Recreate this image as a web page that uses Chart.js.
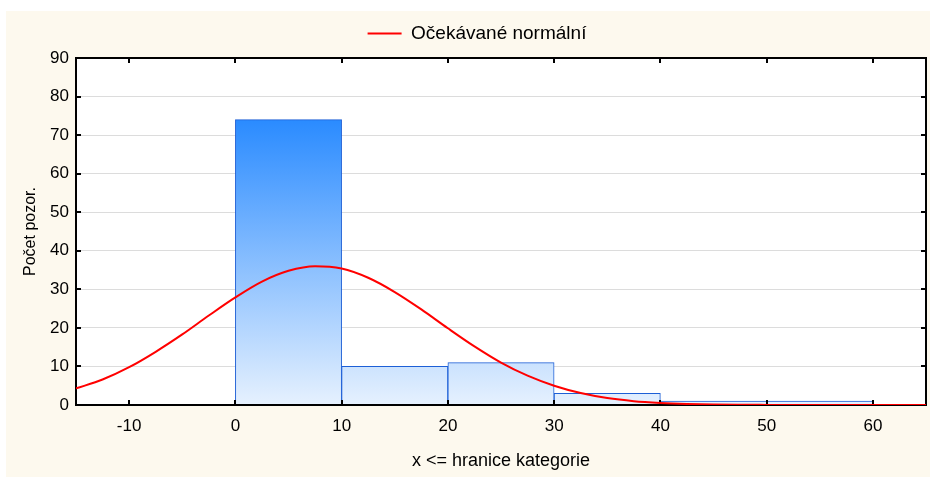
<!DOCTYPE html>
<html>
<head>
<meta charset="utf-8">
<script src="https://cdn.jsdelivr.net/npm/chart.js@4.4.1/dist/chart.umd.min.js"></script>
<style>
  html, body { margin: 0; padding: 0; background: #ffffff; }
  #wrap { width: 933px; height: 477px; }
</style>
</head>
<body>
<div id="wrap"><canvas id="histChart" width="933" height="477"></canvas></div>
<script>
// histogram: bin edges (x <= upper bound) and counts per bin
const binEdges = [0, 10, 20, 30, 40, 50, 60];
const binCounts = [74, 10, 11, 3, 1, 1];

// expected normal curve
const curveX = [-15, -12.5, -10, -7.5, -5, -2.5, 0, 2.5, 5, 7.5, 10, 12.5, 15, 17.5, 20, 22.5, 25, 27.5, 30, 32.5, 35, 37.5, 40, 42.5, 45, 47.5, 50, 55, 60, 65];
const curveY = [4.3, 6.6, 9.8, 13.8, 18.3, 23.2, 27.9, 32.0, 34.8, 36.0, 35.4, 33.0, 29.3, 24.8, 19.9, 15.2, 11.0, 7.6, 5.0, 3.1, 1.8, 1.0, 0.55, 0.28, 0.13, 0.06, 0.03, 0.005, 0, 0];

const xTickValues = [-10, 0, 10, 20, 30, 40, 50, 60];
const xRange = [-15, 65];
const yRange = [0, 90];

const legendLabel = 'Očekávané normální';
const xTitle = 'x <= hranice kategorie';
const yTitle = 'Počet pozor.';

const fontFamily = "'Liberation Sans', Arial, sans-serif";

const barPoints = binCounts.map((c, i) => ({ x: (binEdges[i] + binEdges[i + 1]) / 2, y: c }));
const curvePoints = curveX.map((x, i) => ({ x: x, y: curveY[i] }));

// vertical gradient for the bars, tied to the y scale (not per bar)
function barFill(context) {
  const chart = context.chart;
  const area = chart.chartArea;
  if (!area) return 'rgba(0,0,0,0)';
  const top = chart.scales.y.getPixelForValue(Math.max(...binCounts));
  const g = chart.ctx.createLinearGradient(0, top, 0, area.bottom);
  g.addColorStop(0, '#2a8bff');
  g.addColorStop(1, '#e6f1fe');
  return g;
}

// cream page background
const backdrop = {
  id: 'backdrop',
  beforeDraw(chart) {
    const ctx = chart.ctx;
    ctx.save();
    ctx.fillStyle = '#fdf9ee';
    ctx.fillRect(6, 11, 924, 466);
    ctx.fillStyle = '#ffffff';
    ctx.fillRect(chart.chartArea.left, chart.chartArea.top, chart.chartArea.width, chart.chartArea.height);
    ctx.restore();
  }
};

// black frame + inside tick marks, drawn between bars and curve
const frame = {
  id: 'frame',
  afterDatasetDraw(chart, args) {
    if (args.meta.type !== 'bar') return;
    const { ctx, chartArea: a, scales: { x, y } } = chart;
    ctx.save();
    ctx.strokeStyle = '#000000';
    ctx.lineWidth = 2;
    ctx.strokeRect(a.left, a.top, a.width, a.height);
    ctx.beginPath();
    xTickValues.forEach(v => {
      const px = Math.round(x.getPixelForValue(v));
      ctx.moveTo(px, a.bottom); ctx.lineTo(px, a.bottom - 5);
      ctx.moveTo(px, a.top); ctx.lineTo(px, a.top + 5);
    });
    y.ticks.forEach(t => {
      const py = Math.round(y.getPixelForValue(t.value));
      ctx.moveTo(a.left, py); ctx.lineTo(a.left + 5, py);
      ctx.moveTo(a.right, py); ctx.lineTo(a.right - 5, py);
    });
    ctx.stroke();
    ctx.restore();
  }
};

// a bit more room under the legend, and nudge it right
const legendGap = {
  id: 'legendGap',
  beforeInit(chart) {
    const origFit = chart.legend.fit;
    chart.legend.fit = function () { origFit.call(this); this.height += 5; };
  },
  afterLayout(chart) {
    chart.legend.left += 14;
    chart.legend.right += 14;
  }
};

new Chart(document.getElementById('histChart'), {
  type: 'bar',
  data: {
    datasets: [
      {
        type: 'line',
        label: legendLabel,
        data: curvePoints,
        borderColor: '#ff0000',
        borderWidth: 2,
        pointRadius: 0,
        cubicInterpolationMode: 'monotone',
        order: 0
      },
      {
        type: 'bar',
        label: 'četnost',
        data: barPoints,
        backgroundColor: barFill,
        borderColor: '#1d5fd6',
        borderWidth: 1,
        barPercentage: 1,
        categoryPercentage: 1,
        order: 1
      }
    ]
  },
  options: {
    responsive: false,
    animation: false,
    layout: { padding: { top: 14, left: 0, right: 7, bottom: 0 } },
    plugins: {
      tooltip: { enabled: false },
      legend: {
        position: 'top',
        labels: {
          usePointStyle: true,
          pointStyle: 'line',
          pointStyleWidth: 34,
          padding: 10,
          color: '#000000',
          font: { family: fontFamily, size: 19 },
          filter: item => item.datasetIndex === 0
        }
      }
    },
    scales: {
      x: {
        type: 'linear',
        min: xRange[0],
        max: xRange[1],
        offset: false,
        grid: { display: false, drawTicks: false, offset: false },
        border: { display: false },
        afterBuildTicks: s => { s.ticks = xTickValues.map(v => ({ value: v })); },
        afterFit: s => { s.height = 72; },
        ticks: {
          padding: 11,
          color: '#000000',
          maxRotation: 0,
          autoSkip: false,
          font: { family: fontFamily, size: 17 }
        },
        title: {
          display: true,
          text: xTitle,
          color: '#000000',
          padding: { top: 0, bottom: 5 },
          font: { family: fontFamily, size: 18 }
        }
      },
      y: {
        min: yRange[0],
        max: yRange[1],
        grid: { color: '#dcdcdc', lineWidth: 1, drawTicks: false },
        border: { display: false },
        afterFit: s => { s.width = 76; },
        ticks: {
          stepSize: 10,
          padding: 7,
          color: '#000000',
          font: { family: fontFamily, size: 17 }
        },
        title: {
          display: true,
          text: yTitle,
          color: '#000000',
          padding: { top: 21, bottom: 0 },
          font: { family: fontFamily, size: 16 }
        }
      }
    }
  },
  plugins: [backdrop, frame, legendGap]
});
</script>
</body>
</html>
